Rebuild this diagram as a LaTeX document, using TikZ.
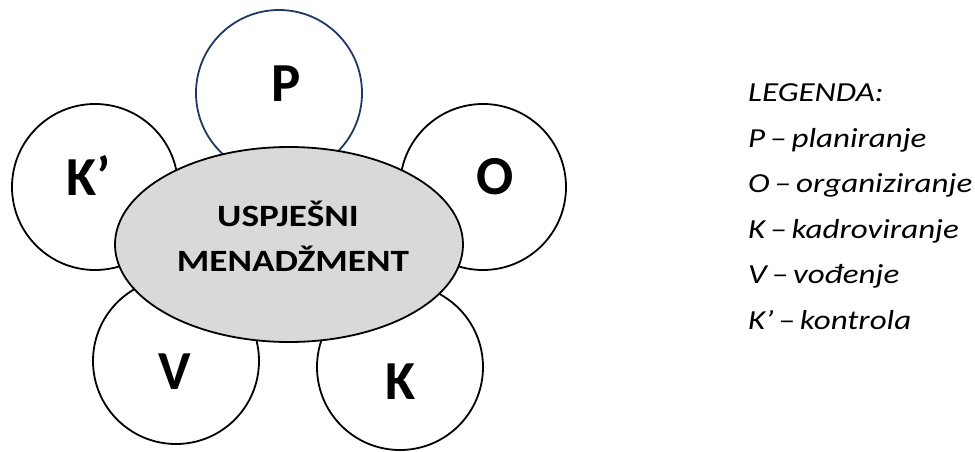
\documentclass[tikz,border=0pt]{standalone}
\usepackage{fontspec}
\setmainfont{Carlito}
\newfontfamily\widefont[FakeStretch=1.2]{Carlito}
\usetikzlibrary{shapes.geometric}
\definecolor{ellgray}{HTML}{D9D9D9}
\definecolor{pblue}{RGB}{31,56,100}
\tikzset{
  petal/.style={circle, draw=black, fill=white, line width=1.8pt, minimum size=166pt, inner sep=0pt},
  petaltext/.style={anchor=base, inner sep=0pt, font=\fontsize{55}{60}\selectfont\bfseries},
  centertext/.style={anchor=base, inner sep=0pt, font=\widefont\fontsize{31}{36}\selectfont\bfseries},
  legendtext/.style={anchor=base west, inner sep=0pt, font=\widefont\fontsize{27.5}{32}\selectfont\itshape},
  core/.style={ellipse, draw=black, fill=ellgray, line width=1.8pt, minimum width=348pt, minimum height=195pt, inner sep=0pt}
}
\begin{document}
\begin{tikzpicture}[x=1pt, y=-1pt]
\useasboundingbox (0,0) rectangle (975,452);
% petals
\node[petal, draw=pblue] (cP) at (279,93) {};
\node[petal] (cKp) at (95,187) {};
\node[petal] (cO) at (483,187) {};
\node[petal] (cV) at (176,361) {};
\node[petal] (cK) at (400,367) {};
% center ellipse
\node[core] (core) at (289,244.5) {};
% petal labels
\node[petaltext] (tP) at (286,102) {P};
\node[petaltext] (tKp) at (89,195) {K’};
\node[petaltext] (tO) at (495,194) {O};
\node[petaltext] (tV) at (174.5,389) {V};
\node[petaltext] (tK) at (401,399) {K};
% center text
\node[centertext] (c1) at (288,226) {USPJEŠNI};
\node[centertext] (c2) at (293,271) {MENADŽMENT};
% legend
\node[legendtext] (l0) at (748,101) {LEGENDA:};
\node[legendtext] (l1) at (748,147) {P\hspace{0.18em}–\hspace{0.18em}planiranje};
\node[legendtext] (l2) at (748,192) {O\hspace{0.18em}–\hspace{0.18em}organiziranje};
\node[legendtext] (l3) at (748,238) {K\hspace{0.18em}–\hspace{0.18em}kadroviranje};
\node[legendtext] (l4) at (748,283) {V\hspace{0.18em}–\hspace{0.18em}vođenje};
\node[legendtext] (l5) at (748,329) {K’\hspace{0.18em}–\hspace{0.18em}kontrola};
\end{tikzpicture}
\end{document}
